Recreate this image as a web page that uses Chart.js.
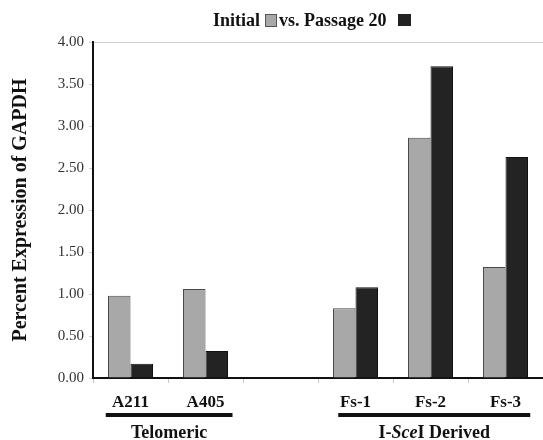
<!DOCTYPE html>
<html>
<head>
<meta charset="utf-8">
<script src="https://cdn.jsdelivr.net/npm/chart.js@4"></script>
<style>
  html, body { margin: 0; padding: 0; background: #fff; }
  #wrap { width: 543px; height: 440px; position: relative; }
</style>
</head>
<body>
<div id="wrap"><canvas id="c" width="543" height="440"></canvas></div>
<script>
const categories = ["A211", "A405", "", "Fs-1", "Fs-2", "Fs-3"];
const initialValues = [0.98, 1.06, null, 0.83, 2.86, 1.32];
const passage20Values = [0.17, 0.32, null, 1.08, 3.71, 2.63];
const yTicks = [0, 0.5, 1, 1.5, 2, 2.5, 3, 3.5, 4];
const groups = [
  { label: "Telomeric", from: 0, to: 1, l: 0.33, r: 0.36 },
  { label: "I-SceI Derived", from: 3, to: 5, l: 0.23, r: 0.33 }
];

const SERIF = "'Liberation Serif', 'Times New Roman', serif";

const decorPlugin = {
  id: 'decor',
  afterDraw(chart) {
    const ctx = chart.ctx;
    const xs = chart.scales.x;
    const cw = xs.getPixelForValue(1) - xs.getPixelForValue(0);
    ctx.save();
    groups.forEach(g => {
      const x0 = xs.getPixelForValue(g.from) - g.l * cw;
      const x1 = xs.getPixelForValue(g.to) + g.r * cw;
      ctx.fillStyle = '#111';
      ctx.fillRect(x0, 413, x1 - x0, 4);
      ctx.textBaseline = 'alphabetic';
      const cx = (x0 + x1) / 2;
      if (g.label === "I-SceI Derived") {
        const parts = [["bold 18px ", "I-"], ["italic bold 18px ", "Sce"], ["bold 18px ", "I Derived"]];
        let total = 0;
        parts.forEach(p => { ctx.font = p[0] + SERIF; total += ctx.measureText(p[1]).width; });
        let x = cx - total / 2;
        ctx.textAlign = 'left';
        parts.forEach(p => { ctx.font = p[0] + SERIF; ctx.fillText(p[1], x, 438); x += ctx.measureText(p[1]).width; });
      } else {
        ctx.font = "bold 18px " + SERIF;
        ctx.textAlign = 'center';
        ctx.fillText(g.label, cx, 438);
      }
    });
    // legend title line
    ctx.font = "bold 18px " + SERIF;
    ctx.textAlign = 'left';
    ctx.textBaseline = 'alphabetic';
    ctx.fillStyle = '#111';
    const y = 26;
    ctx.fillText("Initial", 213, y);
    ctx.fillStyle = '#a8a8a8';
    ctx.fillRect(265, 14, 11, 12);
    ctx.strokeStyle = '#555';
    ctx.lineWidth = 1;
    ctx.strokeRect(265.5, 14.5, 11, 12);
    ctx.fillStyle = '#111';
    ctx.fillText("vs. Passage 20", 279, y);
    ctx.fillStyle = '#222';
    ctx.fillRect(398, 14, 13, 12);
    ctx.restore();
  }
};

new Chart(document.getElementById('c'), {
  type: 'bar',
  data: {
    labels: categories,
    datasets: [
      { label: 'Initial', data: initialValues, backgroundColor: '#a8a8a8', borderColor: '#4a4a4a', borderWidth: 1, categoryPercentage: 0.6, barPercentage: 1.0 },
      { label: 'Passage 20', data: passage20Values, backgroundColor: '#232323', borderColor: '#111', borderWidth: 1, categoryPercentage: 0.6, barPercentage: 1.0 }
    ]
  },
  options: {
    responsive: false,
    animation: false,
    devicePixelRatio: 1,
    layout: { padding: { top: 42, right: 0, left: 9, bottom: 0 } },
    plugins: { legend: { display: false }, tooltip: { enabled: false } },
    scales: {
      x: {
        grid: { color: 'transparent', tickColor: '#c8c8c8', tickLength: 5, offset: true },
        border: { color: '#111', width: 2 },
        ticks: { color: '#111', font: { family: SERIF, size: 17, weight: 'bold' }, padding: 9, maxRotation: 0, autoSkip: false },
        afterFit(s) { s.height = 62; }
      },
      y: {
        min: 0, max: 4,
        afterBuildTicks(s) { s.ticks = yTicks.map(v => ({ value: v })); },
        grid: {
          color: c => (c.tick && c.tick.value === 4) ? '#d0d0d0' : 'transparent',
          tickColor: '#d0d0d0', tickLength: 4
        },
        border: { color: '#111', width: 2 },
        ticks: { color: '#333', font: { family: SERIF, size: 15 }, padding: 5, callback: v => Number(v).toFixed(2) },
        title: { display: true, text: 'Percent Expression of GAPDH', color: '#111', font: { family: SERIF, size: 20, weight: 'bold' }, padding: { top: 0, bottom: 4 } },
        afterFit(s) { s.width = 84; }
      }
    }
  },
  plugins: [decorPlugin]
});
</script>
</body>
</html>
